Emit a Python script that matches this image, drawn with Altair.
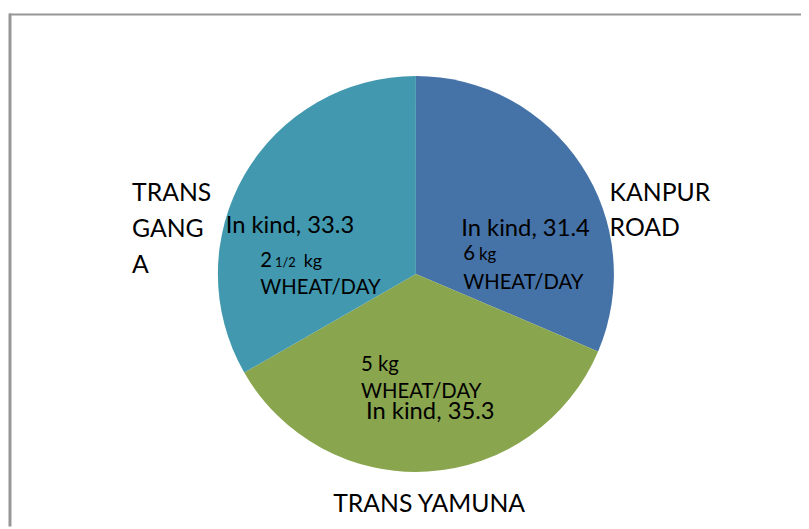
import altair as alt
import pandas as pd

# ---- data ----
regions = ["KANPUR ROAD", "TRANS YAMUNA", "TRANS GANGA"]
values = [31.4, 35.3, 33.3]
category_labels = ["KANPUR\nROAD", "TRANS YAMUNA", "TRANS\nGANG\nA"]
colors = ["#4572A7", "#89A54E", "#4198AF"]

FONT = "Lato"
CX, CY = 412, 266  # pie centre inside the view
R = 200

base_df = pd.DataFrame({"region": regions, "value": values, "order": list(range(len(regions)))})


def theta_enc():
    return alt.Theta("value:Q", stack=True)


pie = alt.Chart(base_df).mark_arc(outerRadius=R).encode(
    theta=theta_enc(),
    order=alt.Order("order:Q"),
    color=alt.Color("region:N", scale=alt.Scale(domain=regions, range=colors), legend=None),
    x=alt.value(CX),
    y=alt.value(CY),
)


def label(region, text, radius, dx, dy, size, align="left", line_height=None):
    df = base_df.copy()
    df["txt"] = [text if r == region else "" for r in regions]
    kw = dict(radius=radius, dx=dx, dy=dy, fontSize=size, font=FONT, align=align,
              baseline="alphabetic", color="#000000", lineBreak="\n")
    if line_height:
        kw["lineHeight"] = line_height
    return alt.Chart(df).mark_text(**kw).encode(
        theta=theta_enc(),
        order=alt.Order("order:Q"),
        text="txt:N",
        x=alt.value(CX),
        y=alt.value(CY),
    )


def kind(i):
    return f"In kind, {values[i]}"


BIG = 24
CAT = 25
MID = 20.5

layers = [
    pie,
    # KANPUR ROAD
    label(regions[0], kind(0), 110, 19, 22, BIG, "center"),
    label(regions[0], "6", 110, -44, 47, MID),
    label(regions[0], "kg", 110, -28, 47, 17),
    label(regions[0], "WHEAT/DAY", 110, -44, 76, MID),
    label(regions[0], category_labels[0], 225, 8, 50, CAT, "left", 36),
    # TRANS YAMUNA
    label(regions[1], "5 kg", 110, -62, -12, MID),
    label(regions[1], "WHEAT/DAY", 110, -62, 15, MID),
    label(regions[1], kind(1), 110, 8, 37, BIG, "center"),
    label(regions[1], category_labels[1], 225, 0, 16, CAT, "center"),
    # TRANS GANGA
    label(regions[2], kind(2), 110, -32, 14, BIG, "center"),
    label(regions[2], "2", 110, -62, 48, MID),
    label(regions[2], "1/2", 110, -47, 48, 13),
    label(regions[2], "kg", 110, -18, 48, 18),
    label(regions[2], "WHEAT/DAY", 110, -62, 75, MID),
    label(regions[2], category_labels[2], 225, -92, 39, CAT, "left", 36.3),
]

frame_df = pd.DataFrame({"a": [0]})
frame_left = alt.Chart(frame_df).mark_rule(color="#969696", strokeWidth=3).encode(
    x=alt.value(2), y=alt.value(3), y2=alt.value(521)
)
frame_top = alt.Chart(frame_df).mark_rule(color="#969696", strokeWidth=2).encode(
    x=alt.value(1), x2=alt.value(801), y=alt.value(4)
)

chart = alt.layer(*layers, frame_left, frame_top).properties(
    width=801, height=521, padding=0, autosize="none", background="white"
).configure_view(stroke=None)

chart.save("out.html", embed_options={"renderer": "svg", "actions": False})
